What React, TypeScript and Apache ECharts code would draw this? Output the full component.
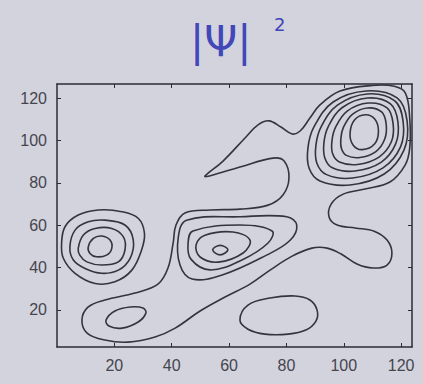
import React, { useEffect, useRef } from "react";
import * as echarts from "echarts";

// Axis ranges and tick labels
const xRange = [0, 123.8];
const yRange = [2.5, 126.7];
const tickValues = [20, 40, 60, 80, 100, 120];

// Contour lines (data coordinates [x, y])
const outerContour = [
  [51.6, 83.2], [57.9, 90.3], [65.9, 101.7], [70.1, 107.4], [73.9, 109.3], [78.1, 106.4],
  [82.0, 103.1], [84.8, 104.5], [88.2, 110.6], [91.7, 116.8], [98.7, 123.4], [109.9, 126.0],
  [117.6, 125.6], [121.5, 122.4], [123.0, 110.5], [123.0, 96.4], [121.4, 88.4], [116.1, 80.4],
  [107.4, 77.1], [99.8, 74.7], [95.6, 70.0], [94.9, 63.8], [97.7, 60.1], [104.0, 58.7],
  [110.6, 57.2], [115.1, 53.0], [116.8, 46.9], [115.1, 41.2], [110.2, 39.8], [104.6, 41.7],
  [99.1, 46.4], [94.2, 49.2], [88.9, 49.2], [82.0, 45.4], [74.3, 38.8], [67.3, 32.2],
  [58.6, 26.1], [49.9, 19.5], [41.2, 11.4], [34.2, 7.2], [24.8, 4.8], [16.7, 5.8],
  [10.5, 9.1], [8.7, 15.2], [10.8, 21.3], [16.7, 24.7], [27.2, 28.0], [35.2, 32.2],
  [38.7, 39.8], [40.5, 51.6], [41.5, 60.1], [44.6, 65.8], [53.4, 67.2], [63.8, 67.6],
  [73.6, 69.5], [78.8, 74.3], [80.9, 82.3], [79.2, 90.3], [75.3, 91.7], [63.8, 87.5],
  [53.5, 83.4]
];

const leftRing1 = [
  [1.6, 51.4], [2.8, 59.3], [7.4, 64.8], [14.4, 67.2], [22.6, 66.4], [28.4, 63.2], [30.5, 56.2],
  [29.5, 48.3], [26.1, 38.8], [20.2, 33.3], [13.3, 32.5], [6.3, 37.3], [2.2, 44.4]
];
const leftRing2 = [
  [4.5, 49.8], [6.3, 57.7], [10.9, 61.6], [16.7, 62.4], [23.7, 60.1], [26.6, 53.0],
  [25.5, 44.4], [21.4, 38.8], [15.6, 37.3], [9.8, 39.6], [5.7, 43.6]
];
const leftRing3 = [
  [7.4, 49.1], [9.2, 55.4], [13.3, 58.5], [19.1, 58.5], [23.1, 54.6], [23.7, 48.3],
  [21.4, 42.7], [15.6, 41.2], [10.4, 42.7], [8.0, 45.8]
];
const leftRing4 = [
  [10.9, 49.8], [12.7, 53.8], [15.6, 54.9], [18.5, 53.0], [19.1, 49.1], [17.3, 45.9],
  [13.8, 45.1], [11.5, 46.7]
];

const lowerLeftRing = [
  [17.1, 15.2], [20.2, 19.5], [25.5, 21.4], [30.0, 20.9], [31.0, 18.5], [28.3, 14.3],
  [22.7, 11.4], [18.1, 12.4]
];
const lowerMidRing = [
  [63.8, 15.2], [66.6, 22.3], [74.3, 25.6], [83.0, 26.6], [88.2, 24.7], [90.7, 19.9],
  [90.3, 14.7], [86.8, 10.5], [80.6, 8.6], [72.5, 8.6], [66.6, 10.9]
];

const midRing1 = [
  [45.2, 62.4], [63.8, 64.0], [80.1, 64.0], [83.6, 60.1], [81.3, 52.9], [73.1, 45.9],
  [57.6, 36.5], [47.1, 34.6], [42.9, 41.2], [42.3, 54.4]
];
const midRing2 = [
  [47.4, 57.3], [63.8, 60.1], [75.0, 57.3], [73.6, 51.6], [64.5, 43.6], [53.4, 38.9],
  [46.7, 44.0], [45.7, 51.4]
];
const midRing3 = [
  [51.6, 55.3], [61.4, 56.8], [67.3, 53.0], [64.9, 46.9], [56.2, 42.6], [49.9, 45.0], [48.5, 50.7]
];
const midRing4 = [[54.3, 48.4], [56.9, 50.5], [59.6, 48.4], [56.9, 46.0]];

const topRightRing1 = [
  [107.5, 112.2], [110.8, 110.2], [112.1, 104.5], [110.8, 98.5], [106.5, 95.7],
  [103.3, 97.8], [102.2, 103.5], [103.8, 109.8]
];
const topRightRing2 = [
  [108.3, 115.4], [113.2, 113.5], [114.8, 107.7], [114.3, 100.7], [111.2, 94.8], [105.6, 92.0],
  [100.9, 93.0], [99.2, 96.2], [99.0, 101.1], [99.9, 106.3], [103.0, 112.4]
];
const topRightRing3 = [
  [108.5, 117.7], [115.1, 115.4], [117.2, 108.1], [116.6, 99.4], [112.3, 92.2], [104.8, 88.7],
  [98.5, 89.9], [96.1, 93.9], [95.9, 100.0], [97.2, 106.4], [101.2, 113.9]
];
const topRightRing4 = [
  [108.3, 120.1], [116.3, 117.3], [118.9, 108.7], [118.1, 98.4], [113.0, 89.7], [103.9, 85.6],
  [96.2, 87.0], [93.4, 91.8], [93.1, 99.1], [94.6, 106.6], [99.5, 115.6]
];
const topRightRing5 = [
  [108.2, 122.0], [117.7, 118.8], [120.7, 108.9], [119.8, 97.0], [113.7, 87.1], [103.1, 82.3],
  [94.0, 83.9], [90.6, 89.4], [90.3, 97.8], [92.1, 106.5], [97.9, 116.8]
];
const topRightRing6 = [
  [107.8, 123.4], [118.6, 120.1], [122.1, 109.2], [121.0, 95.5], [114.1, 84.2], [102.2, 79.0],
  [91.7, 80.9], [87.9, 87.0], [87.5, 96.4], [89.6, 106.4], [96.3, 118.2]
];

const contours = [
  outerContour, leftRing1, leftRing2, leftRing3, leftRing4, lowerLeftRing, lowerMidRing,
  midRing1, midRing2, midRing3, midRing4,
  topRightRing1, topRightRing2, topRightRing3, topRightRing4, topRightRing5, topRightRing6
];

const LINE = "#34343c";
const BG = "#d3d3de";

export default function App() {
  const ref = useRef<HTMLDivElement>(null);
  useEffect(() => {
    if (!ref.current) return;
    const chart = echarts.init(ref.current, undefined, { renderer: "svg" });
    const axisCommon = {
      type: "value" as const,
      splitLine: { show: false },
      axisLine: { show: true, onZero: false, lineStyle: { color: "#2c2c33", width: 1.5 } },
      axisTick: { show: true, inside: true, length: 4, customValues: tickValues, lineStyle: { color: "#2c2c33", width: 1 } },
    };
    const labelStyle = { color: "#45454d", fontSize: 16, fontFamily: "Liberation Sans, Arial, sans-serif", margin: 10, customValues: tickValues };
    chart.setOption({
      animation: false,
      backgroundColor: BG,
      grid: { left: 57, top: 84, width: 355, height: 263, show: false },
      xAxis: [
        { ...axisCommon, min: xRange[0], max: xRange[1], position: "bottom", axisLabel: labelStyle },
        { ...axisCommon, min: xRange[0], max: xRange[1], position: "top", axisLabel: { show: false } },
      ],
      yAxis: [
        { ...axisCommon, min: yRange[0], max: yRange[1], position: "left", axisLabel: labelStyle },
        { ...axisCommon, min: yRange[0], max: yRange[1], position: "right", axisLabel: { show: false } },
      ],
      graphic: [
        { type: "text", left: 190, top: 20, style: { text: "|Ψ|", fontSize: 42, fill: "#4147b8", fontFamily: "DejaVu Sans, sans-serif", fontWeight: "normal" } },
        { type: "text", left: 274, top: 15, style: { text: "2", fontSize: 18, fill: "#4147b8", fontFamily: "DejaVu Sans, sans-serif" } },
      ],
      series: contours.map((pts) => ({
        type: "custom",
        coordinateSystem: "cartesian2d",
        data: pts,
        silent: true,
        renderItem: (params: any, api: any) => {
          if (params.dataIndex !== 0) return null;
          return {
            type: "polygon",
            shape: { points: pts.map((p) => api.coord(p)), smooth: 0.38 },
            style: { fill: "none", stroke: LINE, lineWidth: 1.6 },
          };
        },
      })),
    });
    return () => chart.dispose();
  }, []);
  return <div ref={ref} style={{ position: "fixed", left: 0, top: 0, width: 423, height: 384 }} />;
}
